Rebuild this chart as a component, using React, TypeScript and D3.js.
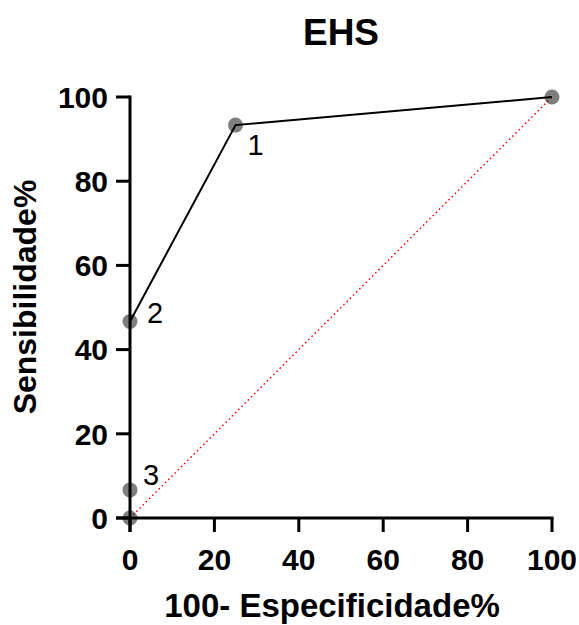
import React from "react";
import * as d3 from "d3";

const fpr = [0, 0, 0, 25, 100];
const tpr = [0, 6.67, 46.67, 93.33, 100];
const pointLabels = ["", "3", "2", "1", ""];
const xTicks = [0, 20, 40, 60, 80, 100];
const yTicks = [0, 20, 40, 60, 80, 100];
const title = "EHS";
const xTitle = "100- Especificidade%";
const yTitle = "Sensibilidade%";

export default function App() {
  const W = 579, H = 625;
  const x = d3.scaleLinear().domain([0, 100]).range([130, 552]);
  const y = d3.scaleLinear().domain([0, 100]).range([518, 97]);
  const pts = fpr.map((f, i) => [f, tpr[i]] as [number, number]);
  const line = d3.line<[number, number]>().x(d => x(d[0])).y(d => y(d[1]));
  const font = "'Liberation Sans', Arial, sans-serif";
  const tick = 14;
  const labelOffsets: Record<string, [number, number]> = { "1": [12, 30], "2": [17, 1], "3": [13, -5] };
  return (
    <svg width={W} height={H} style={{ position: "absolute", left: 0, top: 0 }} fontFamily={font}>
      <rect width={W} height={H} fill="#fff" />
      <text x={341} y={45} textAnchor="middle" fontSize={37} fontWeight="bold">{title}</text>
      {/* diagonal */}
      <line x1={x(0)} y1={y(0)} x2={x(100)} y2={y(100)} stroke="#ff0000" strokeWidth={1.5} strokeDasharray="1.5,3" />
      {/* axes */}
      <line x1={x(0)} y1={y(100) - 1.5} x2={x(0)} y2={y(0) + tick} stroke="#000" strokeWidth={3} />
      <line x1={x(0) - tick} y1={y(0)} x2={x(100) + 1.5} y2={y(0)} stroke="#000" strokeWidth={3} />
      {yTicks.map(t => (
        <g key={"y" + t}>
          <line x1={x(0) - tick} x2={x(0)} y1={y(t)} y2={y(t)} stroke="#000" strokeWidth={3} />
          <text x={x(0) - 22} y={y(t)} dy="0.36em" textAnchor="end" fontSize={30} fontWeight="bold">{t}</text>
        </g>
      ))}
      {xTicks.map(t => (
        <g key={"x" + t}>
          <line x1={x(t)} x2={x(t)} y1={y(0)} y2={y(0) + tick} stroke="#000" strokeWidth={3} />
          <text x={x(t)} y={570} textAnchor="middle" fontSize={30} fontWeight="bold">{t}</text>
        </g>
      ))}
      <text x={332} y={617} textAnchor="middle" fontSize={33} fontWeight="bold">{xTitle}</text>
      <text transform={`translate(36,297) rotate(-90)`} textAnchor="middle" fontSize={32} fontWeight="bold">{yTitle}</text>
      <path d={line(pts) || ""} fill="none" stroke="#000" strokeWidth={2} />
      {pts.map((p, i) => (
        <circle key={"c" + i} cx={x(p[0])} cy={y(p[1])} r={7.5} fill="#000" fillOpacity={0.5} />
      ))}
      {pts.map((p, i) => pointLabels[i] ? (
        <text key={"l" + i} x={x(p[0]) + labelOffsets[pointLabels[i]][0]} y={y(p[1]) + labelOffsets[pointLabels[i]][1]} fontSize={29}>{pointLabels[i]}</text>
      ) : null)}
    </svg>
  );
}
